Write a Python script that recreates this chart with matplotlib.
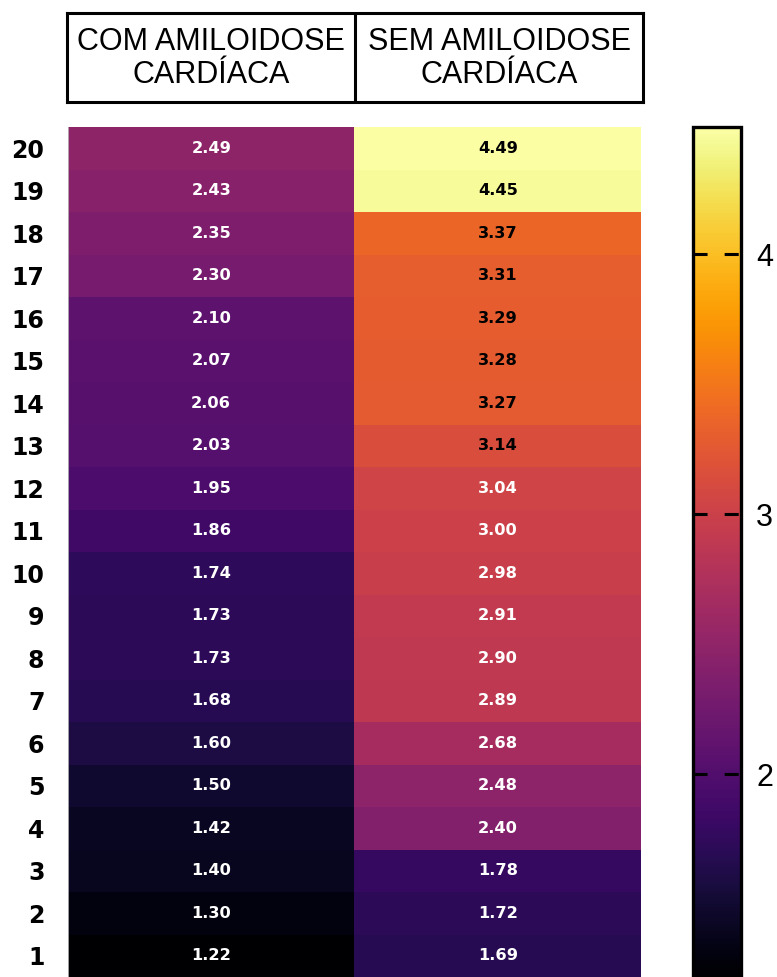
import numpy as np
import matplotlib
matplotlib.use("Agg")
import matplotlib.pyplot as plt

# -------------------- Data --------------------

columns = ["COM AMILOIDOSE\nCARDÍACA", "SEM AMILOIDOSE\nCARDÍACA"]
rows = list(range(1, 21))
com_amiloidose = [1.22, 1.30, 1.40, 1.42, 1.50, 1.60, 1.68, 1.73, 1.73, 1.74,
                  1.86, 1.95, 2.03, 2.06, 2.07, 2.10, 2.30, 2.35, 2.43, 2.49]
sem_amiloidose = [1.69, 1.72, 1.78, 2.40, 2.48, 2.68, 2.89, 2.90, 2.91, 2.98,
                  3.00, 3.04, 3.14, 3.27, 3.28, 3.29, 3.31, 3.37, 4.45, 4.49]
cbar_ticks = [2, 3, 4]

plt.rcParams['font.family'] = ['Liberation Sans', 'DejaVu Sans']

W, H = 777, 977
fig = plt.figure(figsize=(W / 100, H / 100), dpi=100)

data = np.column_stack([com_amiloidose, sem_amiloidose])
vmin, vmax = data.min(), data.max()

# -------------------- Heatmap --------------------

ax = fig.add_axes([68 / W, 0, (641 - 68) / W, 850 / H])
im = ax.imshow(data, cmap="inferno", vmin=vmin, vmax=vmax, aspect="auto",
               origin="lower", extent=(0, 2, 0.5, 20.5), interpolation="nearest")
ax.set_xlim(0, 2)
ax.set_ylim(0.5, 20.5)
ax.set_xticks([])
ax.set_yticks(rows)
ax.set_yticklabels([str(r) for r in rows], fontsize=17, fontweight="bold",
                   family="DejaVu Sans")
ax.tick_params(axis="y", length=0, pad=17)
for lbl in ax.get_yticklabels():
    lbl.set_horizontalalignment("right")
for s in ["top", "right", "bottom"]:
    ax.spines[s].set_visible(False)
ax.spines["left"].set_color("#bbbbbb")
ax.spines["left"].set_linewidth(0.6)

for j in range(2):
    for i, r in enumerate(rows):
        v = data[i, j]
        color = "black" if v > 3.1 else "white"
        ax.text(j + 0.5, r, f"{v:.2f}", ha="center", va="center",
                fontsize=11.7, fontweight="bold", color=color,
                family="DejaVu Sans")

# -------------------- Header --------------------

hax = fig.add_axes([67 / W, (H - 102) / H, (643 - 67) / W, 89 / H])
hax.set_xlim(0, 2)
hax.set_ylim(0, 1)
hax.set_xticks([])
hax.set_yticks([])
for s in hax.spines.values():
    s.set_linewidth(2.2)
hax.axvline(1, color="black", linewidth=2.2)
for j, name in enumerate(columns):
    hax.text(j + 0.5, 0.49, name, ha="center", va="center", fontsize=22,
             linespacing=1.1)

# -------------------- Colorbar --------------------

cax = fig.add_axes([693 / W, 0, 48 / W, 850 / H])
cb = fig.colorbar(im, cax=cax)
cb.outline.set_linewidth(2.4)
cb.set_ticks(cbar_ticks)
cax.tick_params(length=0, pad=11)
cax.set_yticklabels([str(t) for t in cbar_ticks], fontsize=22,
                    family="Liberation Sans")
# dashes get scaled by linewidth
for t in cbar_ticks:
    cax.plot([0, 1], [t, t], transform=cax.get_yaxis_transform(),
             color="black", linewidth=2.2, dashes=(4.6, 5.6), clip_on=False)

fig.savefig("out.png", dpi=100)
